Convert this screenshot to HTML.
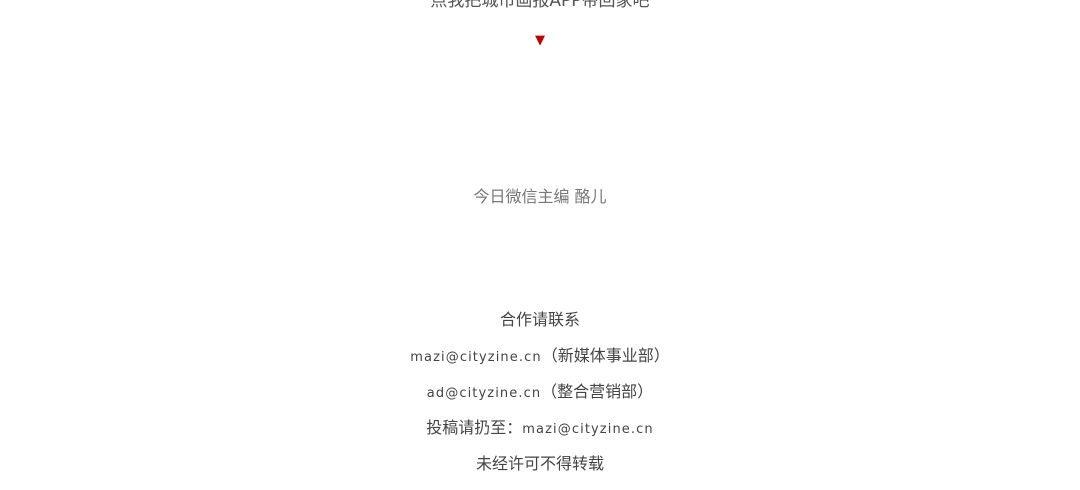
<!DOCTYPE html>
<html><head><meta charset="utf-8"><style>
body{margin:0;width:1080px;height:490px;background:#fff;overflow:hidden;position:relative;font-family:"DejaVu Sans","WenQuanYi Zen Hei",sans-serif;color:#444}
.t{position:absolute;left:0;width:1080px;text-align:center;white-space:nowrap}
.l{letter-spacing:1.1px;font-size:13px}
</style></head><body>
<div class="t" style="top:-14px;font-size:17px;color:#555">点我把城市画报APP带回家吧</div>
<div class="t" style="top:33px;font-size:13px;color:#c00000">▼</div>
<div class="t" style="top:183px;font-size:16px;color:#777">今日微信主编 酪儿</div>
<div class="t" style="top:306px;font-size:16px">合作请联系</div>
<div class="t" style="top:342px;font-size:16px"><span class="l">mazi@cityzine.cn</span>（新媒体事业部）</div>
<div class="t" style="top:378px;font-size:16px"><span class="l">ad@cityzine.cn</span>（整合营销部）</div>
<div class="t" style="top:414px;font-size:16px">投稿请扔至：<span class="l">mazi@cityzine.cn</span></div>
<div class="t" style="top:450px;font-size:16px">未经许可不得转载</div>
</body></html>
